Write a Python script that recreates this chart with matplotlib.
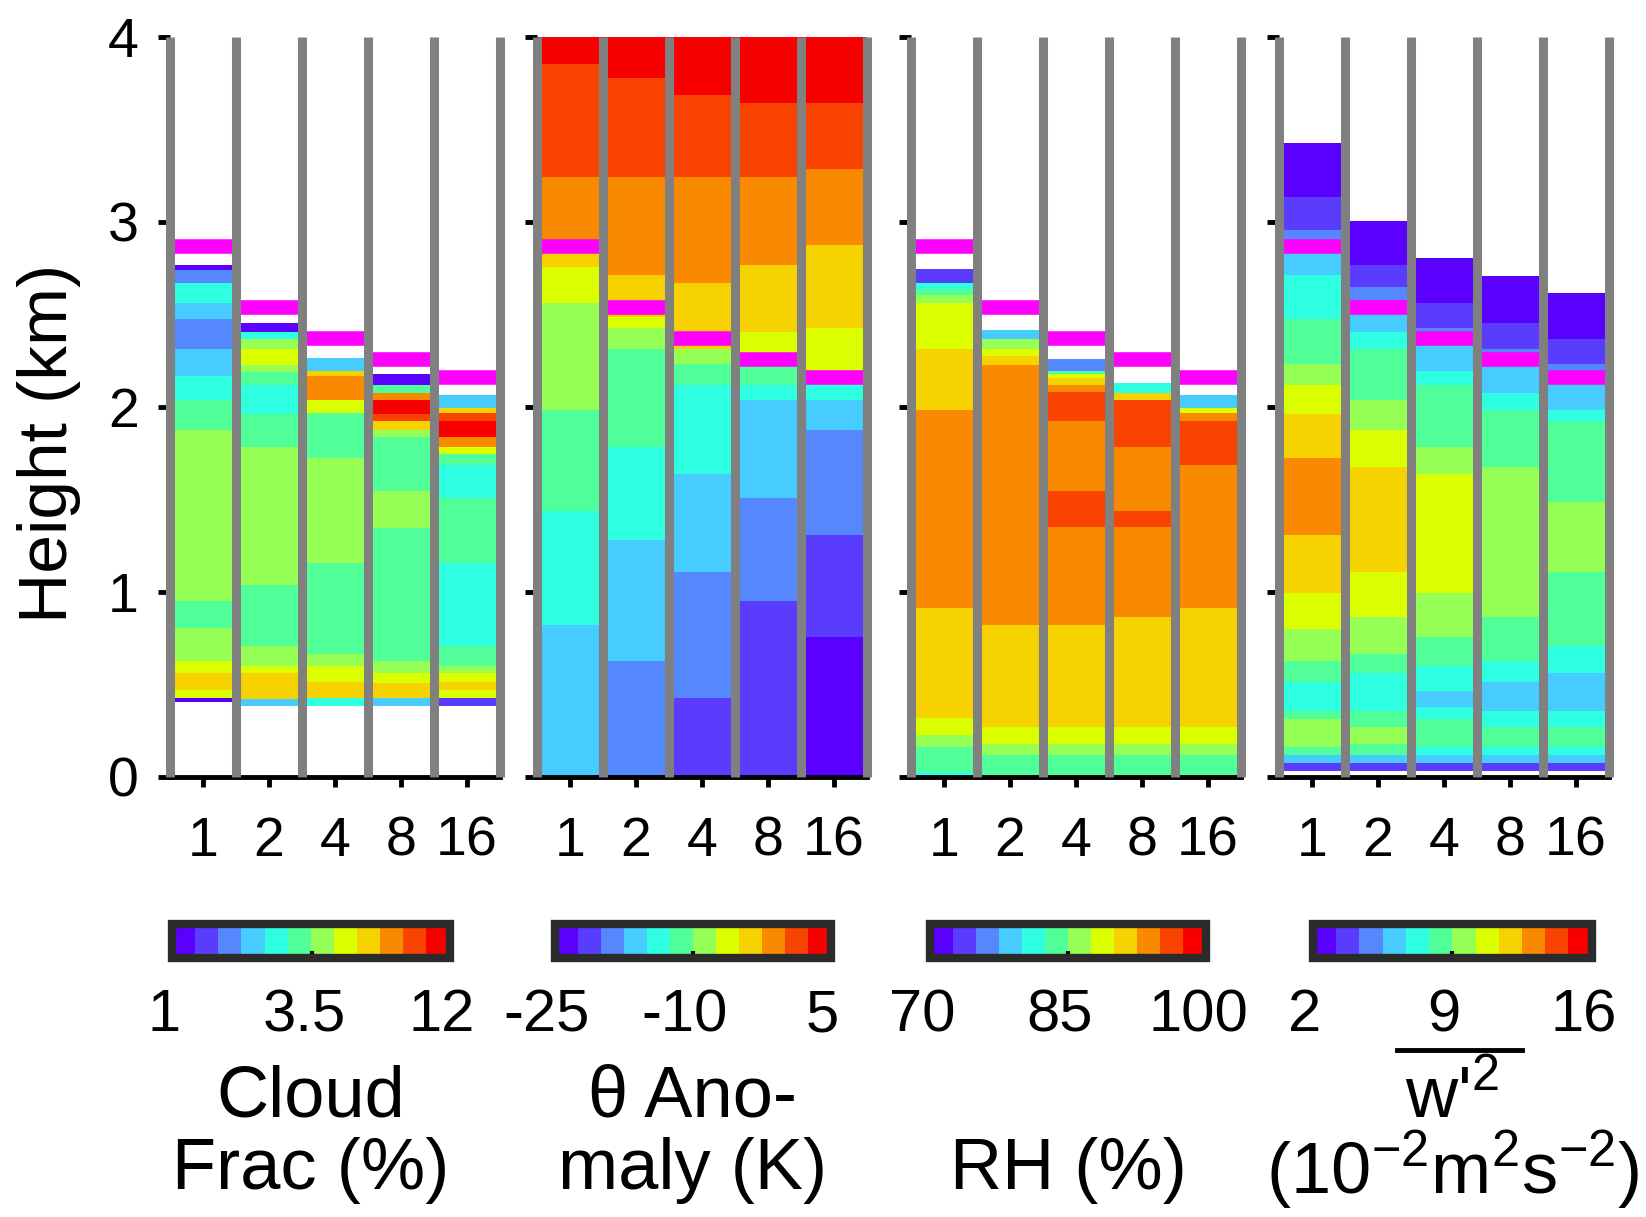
import numpy as np
import matplotlib
matplotlib.use('Agg')
import matplotlib.pyplot as plt
from matplotlib.colors import ListedColormap, BoundaryNorm
from matplotlib.cm import ScalarMappable
from matplotlib.transforms import ScaledTranslation

plt.rcParams['font.family'] = ['Liberation Sans', 'DejaVu Sans']
plt.rcParams['mathtext.fontset'] = 'custom'
plt.rcParams['mathtext.rm'] = 'Liberation Sans'
plt.rcParams['mathtext.it'] = 'Liberation Sans'

# 12-step palette shared by all four panels
palette = ['#5a00ff', '#5a3cff', '#5588ff', '#46ccff', '#2effe0', '#50ff98',
           '#96ff55', '#dcff00', '#f5d200', '#f98a00', '#f84400', '#f80000']
cmap = ListedColormap(palette)

runs = ['1', '2', '4', '8', '16']
inversion = [2.87, 2.54, 2.37, 2.26, 2.16]   # km

# layer edges (km) and layer values for each run
cloud_z = [
    [0.41, 0.433, 0.477, 0.564, 0.63, 0.808, 0.957, 1.88, 2.04, 2.17, 2.32, 2.48, 2.565, 2.675, 2.745, 2.76],
    [0.388, 0.425, 0.564, 0.603, 0.713, 1.044, 1.79, 1.967, 2.125, 2.195, 2.23, 2.32, 2.37, 2.41, 2.45],
    [0.39, 0.43, 0.52, 0.603, 0.67, 1.16, 1.73, 1.97, 2.04, 2.17, 2.20, 2.26],
    [0.39, 0.43, 0.51, 0.564, 0.63, 1.35, 1.55, 1.84, 1.88, 1.93, 1.967, 2.04, 2.08, 2.125, 2.17],
    [0.39, 0.43, 0.477, 0.52, 0.564, 0.603, 0.713, 1.16, 1.51, 1.69, 1.75, 1.79, 1.84, 1.93, 1.97, 2.0, 2.06],
]
cloud_val = [
    [1.1, 4.7, 5.8, 4.7, 3.8, 3.1, 3.8, 3.1, 2.5, 2.1, 1.7, 2.1, 2.5, 1.7, 1.1],
    [2.1, 5.8, 4.7, 3.8, 3.1, 3.8, 3.1, 2.5, 3.1, 3.8, 4.7, 3.8, 2.5, 1.1],
    [2.5, 5.8, 4.7, 3.8, 3.1, 3.8, 3.1, 4.7, 7.1, 5.8, 2.1],
    [2.1, 5.8, 4.7, 3.8, 3.1, 3.8, 3.1, 3.8, 5.8, 8.8, 10.8, 7.1, 3.1, 1.1],
    [1.4, 4.7, 5.8, 4.7, 3.8, 3.1, 2.5, 3.1, 2.5, 3.1, 4.7, 7.1, 10.8, 8.8, 5.8, 2.1],
]

theta_z = [
    [0, 0.826, 1.44, 1.99, 2.565, 2.76, 2.85, 3.25, 3.86, 4.0],
    [0, 0.63, 1.285, 1.79, 2.32, 2.43, 2.49, 2.72, 3.25, 3.78, 4.0],
    [0, 0.43, 1.11, 1.64, 2.125, 2.235, 2.32, 2.675, 3.25, 3.69, 4.0],
    [0, 0.957, 1.51, 2.04, 2.125, 2.25, 2.41, 2.77, 3.25, 3.65, 4.0],
    [0, 0.76, 1.31, 1.88, 2.04, 2.15, 2.43, 2.88, 3.29, 3.65, 4.0],
]
theta_val = [
    [-16, -14, -11, -9, -6, -4, -1, 1, 4],
    [-19, -16, -14, -11, -9, -6, -4, -1, 1, 4],
    [-21, -19, -16, -14, -11, -9, -4, -1, 1, 4],
    [-21, -19, -16, -14, -11, -6, -4, -1, 1, 4],
    [-24, -21, -19, -16, -14, -6, -4, -1, 1, 4],
]

rh_z = [
    [0, 0.03, 0.165, 0.23, 0.323, 0.918, 1.99, 2.32, 2.565, 2.61, 2.64, 2.675, 2.74],
    [0, 0.123, 0.184, 0.275, 0.826, 2.23, 2.28, 2.32, 2.37, 2.41],
    [0, 0.123, 0.184, 0.275, 0.826, 1.356, 1.55, 1.93, 2.085, 2.125, 2.16, 2.18, 2.2, 2.255],
    [0, 0.123, 0.184, 0.275, 0.87, 1.356, 1.44, 1.79, 2.04, 2.08, 2.125],
    [0, 0.123, 0.184, 0.275, 0.918, 1.69, 1.93, 1.97, 2.0, 2.06],
]
rh_val = [
    [81, 84, 86, 89, 91, 94, 91, 89, 86, 84, 81, 74],
    [84, 86, 89, 91, 94, 91, 89, 86, 79],
    [84, 86, 89, 91, 94, 96, 94, 96, 94, 91, 89, 84, 76],
    [84, 86, 89, 91, 94, 96, 94, 96, 91, 81],
    [84, 86, 89, 91, 94, 96, 94, 89, 79],
]

w2_z = [
    [0.035, 0.079, 0.123, 0.165, 0.32, 0.362, 0.52, 0.63, 0.805, 1.0, 1.31, 1.726, 1.967, 2.125, 2.235, 2.48, 2.72, 2.88, 2.96, 3.14, 3.42],
    [0.035, 0.079, 0.123, 0.184, 0.275, 0.362, 0.564, 0.67, 0.87, 1.11, 1.68, 1.88, 2.04, 2.32, 2.41, 2.54, 2.655, 2.77, 3.0],
    [0.035, 0.079, 0.123, 0.165, 0.32, 0.385, 0.47, 0.603, 0.76, 1.0, 1.64, 1.79, 2.125, 2.2, 2.37, 2.43, 2.565, 2.8],
    [0.035, 0.079, 0.123, 0.165, 0.275, 0.362, 0.52, 0.63, 0.87, 1.68, 1.99, 2.08, 2.26, 2.32, 2.46, 2.7],
    [0.035, 0.079, 0.123, 0.165, 0.275, 0.362, 0.564, 0.713, 1.11, 1.49, 1.93, 1.99, 2.16, 2.235, 2.37, 2.61],
]
w2_val = [
    [3.8, 6.1, 8.4, 9.6, 8.4, 7.3, 8.4, 9.6, 10.8, 11.9, 13.1, 11.9, 10.8, 9.6, 8.4, 7.3, 6.1, 4.9, 3.8, 2.6],
    [3.8, 6.1, 8.4, 9.6, 8.4, 7.3, 8.4, 9.6, 10.8, 11.9, 10.8, 9.6, 8.4, 7.3, 6.1, 4.9, 3.8, 2.6],
    [3.8, 6.1, 7.3, 8.4, 7.3, 6.1, 7.3, 8.4, 9.6, 10.8, 9.6, 8.4, 7.3, 6.1, 4.9, 3.8, 2.6],
    [3.8, 6.1, 7.3, 8.4, 7.3, 6.1, 7.3, 8.4, 9.6, 8.4, 7.3, 6.1, 4.9, 3.8, 2.6],
    [3.8, 6.1, 7.3, 8.4, 7.3, 6.1, 7.3, 8.4, 9.6, 8.4, 7.3, 6.1, 4.9, 3.8, 2.6],
]

levels = [np.geomspace(1, 12, 13), np.linspace(-25, 5, 13),
          np.linspace(70, 100, 13), np.linspace(2, 16, 13)]
cb_ticks = [[1, 3.5, 12], [-25, -10, 5], [70, 85, 100], [2, 9, 16]]
cb_ticklabels = [['1', '3.5', '12'], ['-25', '-10', '5'],
                 ['70', '85', '100'], ['2', '9', '16']]
cb_titles = [('Cloud', 'Frac (%)'), ('\u03b8 Ano-', 'maly (K)'), ('', 'RH (%)'),
             ("w'$^{2}$", '(10$^{-2}$m$^{2}$s$^{-2}$)')]
fields = [(cloud_z, cloud_val), (theta_z, theta_val), (rh_z, rh_val), (w2_z, w2_val)]

fig = plt.figure(figsize=(16.46, 12.17), dpi=100)
ax_left = [0.1033, 0.3263, 0.5535, 0.777]
cb_left = [0.1045, 0.3372, 0.5650, 0.7977]
cb_width = [0.1686, 0.1674, 0.1677, 0.1693]
x = np.arange(1, 6)
nudge = ScaledTranslation(-0.08, 0, fig.dpi_scale_trans)

for i, (zs, vals) in enumerate(fields):
    ax = fig.add_axes([ax_left[i], 0.3617, 0.2005, 0.6081])
    norm = BoundaryNorm(levels[i], cmap.N)
    for j in range(5):
        ax.pcolormesh([x[j] - 0.5, x[j] + 0.5], zs[j], np.array(vals[j])[:, None],
                      cmap=cmap, norm=norm, edgecolors='face', linewidth=0.3, zorder=1)
    ax.hlines(inversion, x - 0.5, x + 0.5, color='#ff00ff', lw=10.5, zorder=2)
    ax.vlines(np.arange(0.5, 6), 0, 4, color='#808080', lw=6.5, zorder=3, clip_on=False)

    ax.set_xlim(0.5, 5.5)
    ax.set_ylim(0, 4)
    ax.set_xticks(x)
    ax.set_xticklabels(runs)
    ax.set_yticks([0, 1, 2, 3, 4])
    for s in ['top', 'right', 'left']:
        ax.spines[s].set_visible(False)
    ax.spines['bottom'].set_linewidth(3.5)
    ax.spines['bottom'].set_zorder(2.5)
    ax.tick_params(axis='x', direction='out', length=7, width=3.5, labelsize=40, pad=21)
    ax.tick_params(axis='y', direction='out', length=8.5, width=3.5, labelsize=40, pad=14,
                   labelleft=(i == 0))
    if i == 0:
        ax.set_ylabel('Height (km)', fontsize=50)
        ax.yaxis.set_label_coords(-0.27, 0.451)

    cax = fig.add_axes([cb_left[i], 0.2132, cb_width[i], 0.0275])
    cb = fig.colorbar(ScalarMappable(norm=norm, cmap=cmap), cax=cax,
                      orientation='horizontal', ticks=cb_ticks[i])
    cb.set_ticklabels(cb_ticklabels[i])
    cb.outline.set_linewidth(6)
    cb.outline.set_edgecolor('#2b2b2b')
    cax.tick_params(direction='in', length=5, width=3, color='k', labelsize=43, pad=22)
    cax.minorticks_off()
    for lab in cax.get_xticklabels():
        lab.set_transform(lab.get_transform() + nudge)

    top, bottom = cb_titles[i]
    cax.annotate(top, xy=(0.5, 0), xycoords='axes fraction', xytext=(0, -101),
                 textcoords='offset points', ha='center', va='center', fontsize=52)
    cax.annotate(bottom, xy=(0.5, 0), xycoords='axes fraction', xytext=(0, -153),
                 textcoords='offset points', ha='center', va='center', fontsize=52)
    if i == 3:
        # overbar marking the time mean of w'^2
        cax.plot([0.30, 0.75], [-2.76, -2.76], transform=cax.transAxes,
                 color='k', lw=3.5, clip_on=False)

fig.savefig('out.png', dpi=100)
